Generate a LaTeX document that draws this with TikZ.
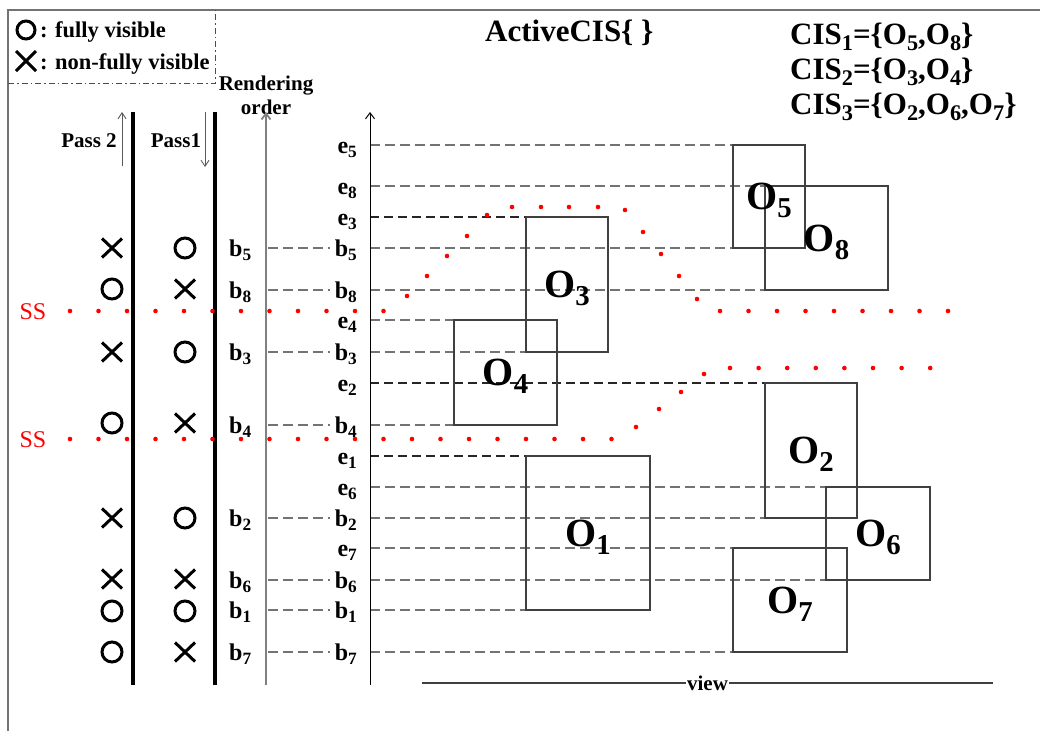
\documentclass[tikz,border=0pt]{standalone}
\usepackage{fontspec}
\usepackage{graphicx}
\setmainfont{Liberation Serif}
\usetikzlibrary{arrows.meta}
\pgfdeclarelayer{bg}
\pgfsetlayers{bg,main}
\newcommand\fsz[1]{\fontsize{#1}{#1}\selectfont}
\newcommand\mysub[1]{\raisebox{-0.2em}{\scalebox{0.72}{#1}}}
\tikzset{
  framel/.style={draw=black!55, line width=1.4pt},
  legbox/.style={draw=black!70, line width=1pt, dash pattern=on 6pt off 3pt on 1.5pt off 3pt},
  passline/.style={draw=black, line width=3.6pt},
  raxis/.style={draw=black!50, line width=1.8pt, -{Straight Barb[length=6pt,width=9pt]}},
  eaxis/.style={draw=black, line width=1pt, -{Straight Barb[length=6pt,width=9pt]}},
  parrow/.style={draw=black!65, line width=0.9pt, -{Straight Barb[length=6pt,width=8pt]}},
  gdash/.style={draw=black!55, line width=1.7pt, dash pattern=on 10pt off 5pt},
  kdash/.style={draw=black!85, line width=1.1pt, dash pattern=on 9pt off 5pt},
  obj/.style={draw=black!75, line width=1.3pt, inner sep=0pt, outer sep=0pt, anchor=north west},
  olab/.style={font=\fsz{40}\bfseries, inner sep=0pt, anchor=base},
  lab/.style={font=\fsz{24}\bfseries, inner sep=0pt},
  small/.style={font=\fsz{21}\bfseries, inner sep=0pt},
  big/.style={font=\fsz{31}\bfseries, inner sep=0pt, anchor=base west},
  sslab/.style={font=\fsz{24}, text=red, inner sep=0pt, anchor=base},
  ssdot/.style={fill=red},
  omark/.pic={\draw[line width=3pt] (0,0) circle[radius=10pt];},
  xmark/.pic={\draw[line width=3pt] (-10pt,-9.5pt) -- (10pt,9.5pt) (-10pt,9.5pt) -- (10pt,-9.5pt);},
  lomark/.pic={\draw[line width=3pt] (0,0) circle[radius=9pt];},
  lxmark/.pic={\draw[line width=3pt] (-10pt,-10pt) -- (10pt,10pt) (-10pt,10pt) -- (10pt,-10pt);},
}
\begin{document}
\begin{tikzpicture}[x=1pt,y=-1pt]
\useasboundingbox (0,0) rectangle (1040,731);
% frame
\coordinate (fbl) at (8,731);
\coordinate (ftl) at (8,10);
\coordinate (ftr) at (1040,10);
\draw[framel] (fbl) -- (ftl) -- (ftr);
% legend
\coordinate (lg1) at (8,83);
\coordinate (lg2) at (215,83);
\coordinate (lg3) at (215,10);
\draw[legbox] (lg1) -- (lg2) -- (lg3);
\pic at (26,30) {lomark};
\pic at (26,61) {lxmark};
\node[small, anchor=base west, font=\fsz{22.5}\bfseries] (lgt1) at (40,37) {: fully visible};
\node[small, anchor=base west, font=\fsz{22.5}\bfseries] (lgt2) at (40,69) {: non-fully visible};
% titles
\node[big] (act) at (485,41) {ActiveCIS\{ \}};
\node[big] (cis1) at (790,44) {CIS\mysub{1}=\{O\mysub{5},O\mysub{8}\}};
\node[big] (cis2) at (790,79) {CIS\mysub{2}=\{O\mysub{3},O\mysub{4}\}};
\node[big] (cis3) at (790,114) {CIS\mysub{3}=\{O\mysub{2},O\mysub{6},O\mysub{7}\}};
% rendering order
\node[small, anchor=base] (ro1) at (266,90) {Rendering};
\node[small, anchor=base] (ro2) at (266,114) {order};
% vertical lines
\coordinate (p2t) at (133,112); \coordinate (p2b) at (133,685);
\coordinate (p1t) at (215,112); \coordinate (p1b) at (215,685);
\draw[passline] (p2t) -- (p2b);
\draw[passline] (p1t) -- (p1b);
\coordinate (rat) at (266,112); \coordinate (rab) at (266,685);
\draw[raxis] (rab) -- (rat);
\coordinate (eat) at (370,112); \coordinate (eab) at (370,685);
\draw[eaxis] (eab) -- (eat);
% pass arrows
\coordinate (p2a) at (122,166); \coordinate (p2b2) at (122,112);
\coordinate (p1a) at (205,112); \coordinate (p1b2) at (205,167);
\draw[parrow] (p2a) -- (p2b2);
\draw[parrow] (p1a) -- (p1b2);
\node[small, anchor=base] (ps2) at (89,147) {Pass 2};
\node[small, anchor=base] (ps1) at (176,147) {Pass1};
% objects
\node[obj, minimum width=72pt,  minimum height=103pt] (O5) at (733,145) {};
\node[obj, minimum width=123pt, minimum height=104pt] (O8) at (765,186) {};
\node[obj, minimum width=82pt,  minimum height=135pt] (O3) at (526,217) {};
\node[obj, minimum width=103pt, minimum height=105pt] (O4) at (454,320) {};
\node[obj, minimum width=92pt,  minimum height=135pt] (O2) at (765,383) {};
\node[obj, minimum width=124pt, minimum height=154pt] (O1) at (526,456) {};
\node[obj, minimum width=104pt, minimum height=93pt]  (O6) at (826,487) {};
\node[obj, minimum width=114pt, minimum height=104pt] (O7) at (733,548) {};
\foreach \i in {1,...,8} {
  \node[olab] (T\i) at ([yshift=-13pt]O\i.center) {O\mysub{\i}};
}
% row labels and coordinates
\foreach \l/\s/\y in {e/5/145, e/8/186, e/3/217, b/5/248, b/8/290, e/4/320, b/3/352, e/2/383, b/4/425, e/1/456, e/6/487, b/2/518, e/7/548, b/6/580, b/1/610, b/7/652} {
  \coordinate (r-\l\s) at (370,\y);
  \node[lab, anchor=base east] (L-\l\s) at (357,\y+8) {\l\mysub{\s}};
}
\foreach \s/\y in {5/248, 8/290, 3/352, 4/425, 2/518, 6/580, 1/610, 7/652} {
  \coordinate (lb-\s) at (268,\y);
  \coordinate (le-\s) at (330,\y);
  \node[lab, anchor=base west] (B-\s) at (229,\y+8) {b\mysub{\s}};
}
\begin{pgfonlayer}{bg}
\foreach \s in {5,8,3,4,2,6,1,7} { \draw[gdash] (lb-\s) -- (le-\s); }
\draw[gdash] (r-e5) -- (O5.north west);
\draw[gdash] (r-e8) -- (O8.north west);
\draw[kdash] (r-e3) -- (O3.north west);
\draw[gdash] (r-b5) -- (O5.south west);
\draw[gdash] (r-b8) -- (O8.south west);
\draw[gdash] (r-e4) -- (O4.north west);
\draw[gdash] (r-b3) -- (O3.south west);
\draw[kdash] (r-e2) -- (O2.north west);
\draw[gdash] (r-b4) -- (O4.south west);
\draw[kdash] (r-e1) -- (O1.north west);
\draw[gdash] (r-e6) -- (O6.north west);
\draw[gdash] (r-b2) -- (O2.south west);
\draw[gdash] (r-e7) -- (O7.north west);
\draw[gdash] (r-b6) -- (O6.south west);
\draw[gdash] (r-b1) -- (O1.south west);
\draw[gdash] (r-b7) -- (O7.south west);
\end{pgfonlayer}
% visibility marks
\pic at (112,248) {xmark}; \pic at (185,248) {omark};
\pic at (112,289) {omark}; \pic at (185,289) {xmark};
\pic at (112,352) {xmark}; \pic at (185,352) {omark};
\pic at (112,423) {omark}; \pic at (185,423) {xmark};
\pic at (112,518) {xmark}; \pic at (185,518) {omark};
\pic at (112,579) {xmark}; \pic at (185,579) {xmark};
\pic at (112,611) {omark}; \pic at (185,611) {omark};
\pic at (112,652) {omark}; \pic at (185,652) {xmark};
% SS lines
\node[sslab] (ss1) at (33,319) {SS};
\node[sslab] (ss2) at (33,447) {SS};
\foreach \k in {0,...,11} { \fill[ssdot] ({70+28.5*\k},311) circle[radius=2.3pt]; }
\foreach \x/\y in {407/296, 427/276, 447/256, 467/236, 487/215, 512/207, 541/207, 569/207, 598/207, 625/210, 643/232, 661/254, 679/276, 697/299} { \fill[ssdot] (\x,\y) circle[radius=2.3pt]; }
\foreach \k in {0,...,8} { \fill[ssdot] ({720+28.5*\k},311) circle[radius=2.3pt]; }
\foreach \k in {0,...,19} { \fill[ssdot] ({70+28.5*\k},439) circle[radius=2.3pt]; }
\foreach \x/\y in {636/427, 659/409, 681/392, 704/374} { \fill[ssdot] (\x,\y) circle[radius=2.3pt]; }
\foreach \k in {0,...,7} { \fill[ssdot] ({730+28.6*\k},368) circle[radius=2.3pt]; }
% view
\coordinate (v1) at (422,683); \coordinate (v2) at (993,683);
\draw[draw=black!75, line width=1.3pt] (v1) -- node[font=\fsz{21}\bfseries, fill=white, inner sep=1pt] (vw) {view} (v2);
\end{tikzpicture}
\end{document}
